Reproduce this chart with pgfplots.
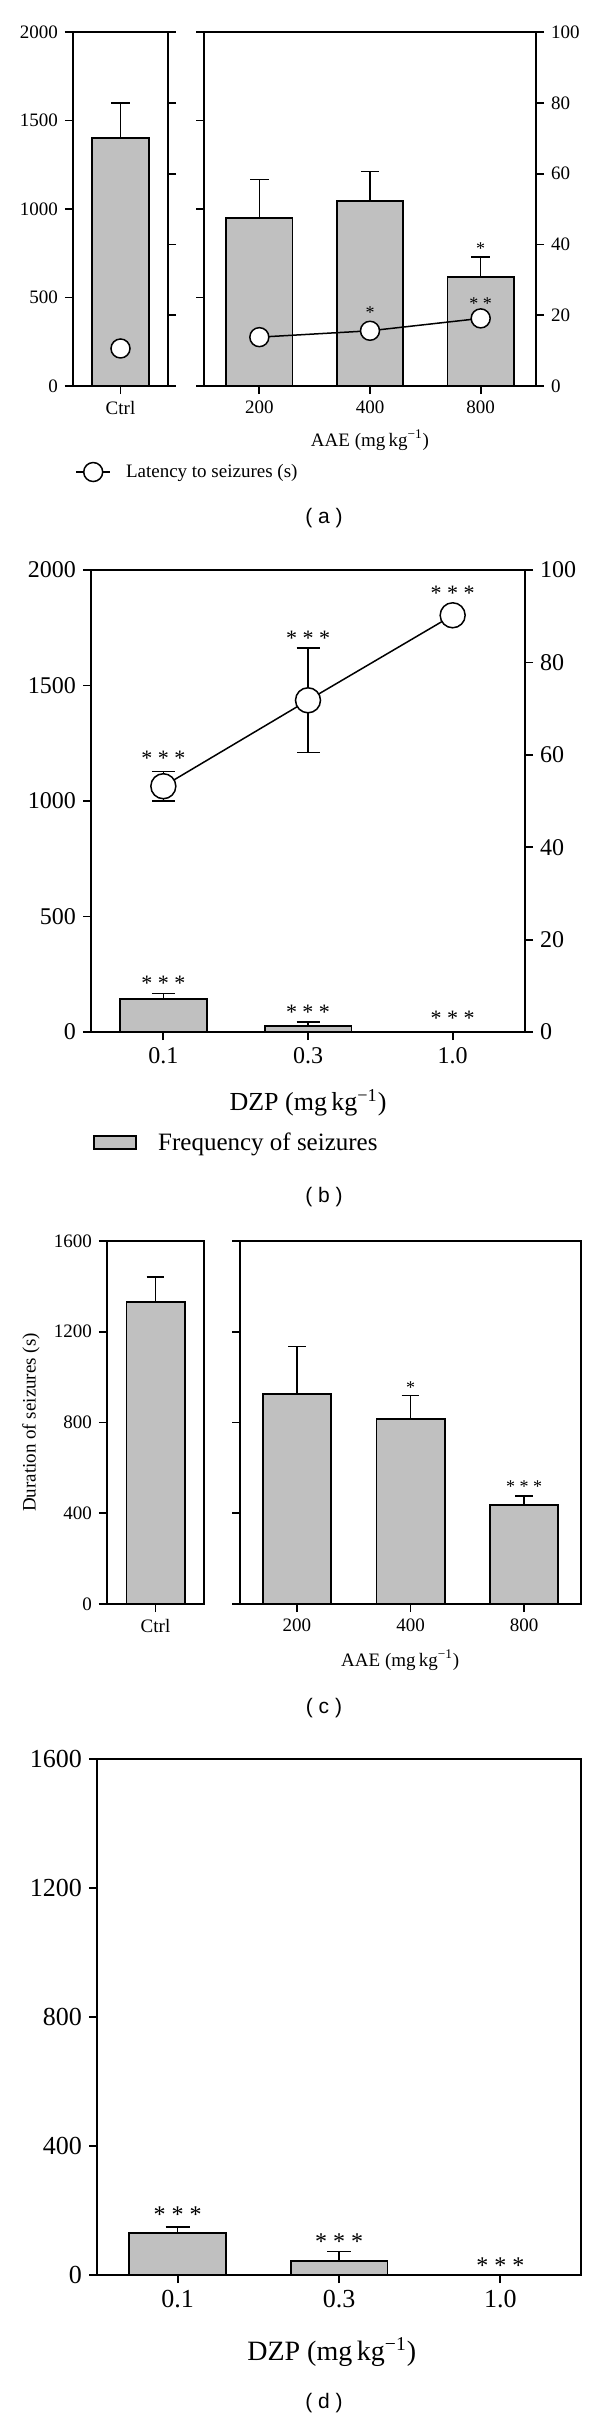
\documentclass[border=0pt]{standalone}
\usepackage{fontspec}
\setmainfont{Liberation Serif}
\newfontfamily\subfont{Liberation Sans}
\usepackage{pgfplots}
\pgfplotsset{compat=1.18}
\definecolor{barfill}{RGB}{192,192,192}
\newcommand{\unitlbl}{(mg\,kg\textsuperscript{\char"2212 1})}
\newcommand{\fs}[1]{\fontsize{#1}{#1}\selectfont}

\pgfplotsset{
  base/.style={
    scale only axis, anchor=south west,
    axis line style={line width=0.9pt},
    tick style={line width=0.9pt,black},
    major tick length=4pt,
    tick align=outside,
    /pgf/number format/assume math mode=true,
    /pgf/number format/1000 sep={},
    scaled y ticks=false,
    clip=false,
    xtick pos=bottom,
  },
  barsty/.style={ybar, bar width=0.6, fill=barfill, draw=black, line width=0.9pt,
    error bars/.cd, y dir=plus, y explicit,
    error bar style={line width=0.75pt},
    error mark options={rotate=90, mark size=#1, line width=0.75pt}},
  circ/.style={black, line width=0.75pt, mark=*, mark size=#1,
    mark options={fill=white, draw=black, line width=0.75pt, solid}},
}

\begin{document}
\begin{tikzpicture}
\useasboundingbox (0,0) rectangle (300pt,-1209.5pt);

%% ---------------- (a) ----------------
\begin{axis}[base, at={(36.5pt,-193pt)}, width=47.5pt, height=177pt,
  xmin=-0.5, xmax=0.5, ymin=0, ymax=2000,
  ytick={0,500,1000,1500,2000}, ytick pos=left,
  xtick={0}, xticklabels={Ctrl},
  ticklabel style={font=\fs{9.5}}]
\addplot[barsty=4.6pt] coordinates {(0,1400) +- (0,200)};
\draw[line width=0.9pt] ([xshift=-4pt]rel axis cs:0,0) -- ([xshift=4pt]rel axis cs:1,0);
\draw[line width=0.9pt] ([xshift=-4pt]rel axis cs:0,1) -- ([xshift=4pt]rel axis cs:1,1);
\end{axis}
\begin{axis}[base, at={(36.5pt,-193pt)}, width=47.5pt, height=177pt,
  xmin=-0.5, xmax=0.5, ymin=0, ymax=100,
  axis x line=none, axis y line*=right,
  ytick={20,40,60,80}, yticklabels={,,,,}]
\addplot[circ=4.75pt] coordinates {(0,10.6)};
\end{axis}

\begin{axis}[base, at={(102pt,-193pt)}, width=166pt, height=177pt,
  xmin=-0.5, xmax=2.5, ymin=0, ymax=2000,
  ytick={0,500,1000,1500,2000}, ytick pos=left, yticklabels={,,,,,},
  xtick={0,1,2}, xticklabels={200,400,800},
  ticklabel style={font=\fs{9.5}},
  xlabel={AAE \unitlbl}, xlabel style={font=\fs{9.5}, at={(axis description cs:0.5,-0.1525)}, anchor=center}]
\addplot[barsty=4.6pt] coordinates {(0,951) +- (0,217) (1,1043) +- (0,168) (2,614) +- (0,115)};
\node[font=\fs{9}] at (axis cs:2,778) {*};
\draw[line width=0.9pt] ([xshift=-4pt]rel axis cs:0,0) -- ([xshift=4pt]rel axis cs:1,0);
\draw[line width=0.9pt] ([xshift=-4pt]rel axis cs:0,1) -- ([xshift=4pt]rel axis cs:1,1);
\end{axis}
\begin{axis}[base, at={(102pt,-193pt)}, width=166pt, height=177pt,
  xmin=-0.5, xmax=2.5, ymin=0, ymax=100,
  axis x line=none, axis y line*=right,
  ytick={0,20,40,60,80,100},
  ticklabel style={font=\fs{9.5}},
  legend style={at={(-0.3886,-0.243)}, anchor=west, draw=none, fill=none,
    inner sep=0pt, nodes={inner sep=0pt}, column sep=7.5pt, font=\fs{9.5}}]
\addplot[circ=4.75pt] coordinates {(0,13.8) (1,15.6) (2,19.1)};
\addlegendentry{Latency to seizures (s)}
\node[font=\fs{9}] at (axis cs:1,20.8) {*};
\node[font=\fs{9}] at (axis cs:2,23.4) {* *};
\end{axis}
\node[font=\subfont\fs{10.5}] at (162pt,-259pt) {( a )};

%% ---------------- (b) ----------------
\begin{axis}[base, at={(45.5pt,-516pt)}, width=217pt, height=231pt,
  xmin=-0.5, xmax=2.5, ymin=0, ymax=2000,
  ytick={0,500,1000,1500,2000}, ytick pos=left,
  xtick={0,1,2}, xticklabels={0.1,0.3,1.0},
  ticklabel style={font=\fs{12}},
  xlabel={DZP \unitlbl}, xlabel style={font=\fs{13}, at={(axis description cs:0.5,-0.153)}, anchor=center},
  legend style={at={(0.0046,-0.240)}, anchor=west, draw=none, fill=none,
    inner sep=0pt, nodes={inner sep=0pt}, column sep=10.5pt, font=\fs{12.5}},
  legend image code/.code={\draw[#1] (0pt,-3.25pt) rectangle (21pt,3.25pt);}]
\addplot[barsty=5.75pt] coordinates {(0,143) +- (0,23) (1,26) +- (0,17) (2,0) +- (0,0)};
\addlegendentry{Frequency of seizures}
\node[font=\fs{11}] at (axis cs:0,213) {* * *};
\node[font=\fs{11}] at (axis cs:1,87) {* * *};
\node[font=\fs{11}] at (axis cs:2,61) {* * *};
\draw[line width=0.9pt] ([xshift=-4pt]rel axis cs:0,0) -- ([xshift=4pt]rel axis cs:1,0);
\draw[line width=0.9pt] ([xshift=-4pt]rel axis cs:0,1) -- ([xshift=4pt]rel axis cs:1,1);
\end{axis}
\begin{axis}[base, at={(45.5pt,-516pt)}, width=217pt, height=231pt,
  xmin=-0.5, xmax=2.5, ymin=0, ymax=100,
  axis x line=none, axis y line*=right,
  ytick={0,20,40,60,80,100},
  ticklabel style={font=\fs{12}}]
\addplot[circ=6.25pt, error bars/.cd, y dir=both, y explicit,
  error bar style={line width=0.75pt, solid},
  error mark options={rotate=90, mark size=5.75pt, line width=0.75pt}]
  coordinates {(0,53.2) +- (0,3.2) (1,71.8) +- (0,11.3) (2,90.2) +- (0,0)};
\node[font=\fs{11}] at (axis cs:0,59.2) {* * *};
\node[font=\fs{11}] at (axis cs:1,85.2) {* * *};
\node[font=\fs{11}] at (axis cs:2,95.0) {* * *};
\end{axis}
\node[font=\subfont\fs{10.5}] at (162pt,-598.5pt) {( b )};

%% ---------------- (c) ----------------
\begin{axis}[base, at={(53.5pt,-802pt)}, width=48.5pt, height=181.5pt,
  xmin=-0.5, xmax=0.5, ymin=0, ymax=1600,
  ytick={0,400,800,1200,1600}, ytick pos=left,
  xtick={0}, xticklabels={Ctrl},
  ticklabel style={font=\fs{9.5}},
  ylabel={Duration of seizures (s)}, ylabel style={font=\fs{9.5}, at={(axis description cs:-0.784,0.5)}, anchor=center}]
\addplot[barsty=4.4pt] coordinates {(0,1332) +- (0,109)};
\draw[line width=0.9pt] ([xshift=-4pt]rel axis cs:0,0) -- (rel axis cs:1,0);
\draw[line width=0.9pt] ([xshift=-4pt]rel axis cs:0,1) -- (rel axis cs:1,1);
\end{axis}
\begin{axis}[base, at={(120pt,-802pt)}, width=170.5pt, height=181.5pt,
  xmin=-0.5, xmax=2.5, ymin=0, ymax=1600,
  ytick={0,400,800,1200,1600}, ytick pos=left, yticklabels={,,,,,},
  xtick={0,1,2}, xticklabels={200,400,800},
  ticklabel style={font=\fs{9.5}},
  xlabel={AAE \unitlbl}, xlabel style={font=\fs{9.5}, at={(axis description cs:0.47,-0.154)}, anchor=center}]
\addplot[barsty=4.4pt] coordinates {(0,927) +- (0,207) (1,814) +- (0,104) (2,438) +- (0,38)};
\node[font=\fs{9}] at (axis cs:1,952) {*};
\node[font=\fs{9}] at (axis cs:2,516) {* * *};
\draw[line width=0.9pt] ([xshift=-4pt]rel axis cs:0,0) -- (rel axis cs:1,0);
\draw[line width=0.9pt] ([xshift=-4pt]rel axis cs:0,1) -- (rel axis cs:1,1);
\end{axis}
\node[font=\subfont\fs{10.5}] at (162pt,-854pt) {( c )};

%% ---------------- (d) ----------------
\begin{axis}[base, at={(48.5pt,-1137.5pt)}, width=242pt, height=258pt,
  xmin=-0.5, xmax=2.5, ymin=0, ymax=1600,
  ytick={0,400,800,1200,1600}, ytick pos=left,
  xtick={0,1,2}, xticklabels={0.1,0.3,1.0},
  ticklabel style={font=\fs{13}},
  xlabel={DZP \unitlbl}, xlabel style={font=\fs{14}, at={(axis description cs:0.485,-0.149)}, anchor=center}]
\addplot[barsty=6pt] coordinates {(0,131) +- (0,18) (1,44) +- (0,29) (2,0) +- (0,0)};
\node[font=\fs{12}] at (axis cs:0,186) {* * *};
\node[font=\fs{12}] at (axis cs:1,103) {* * *};
\node[font=\fs{12}] at (axis cs:2,28) {* * *};
\draw[line width=0.9pt] ([xshift=-4pt]rel axis cs:0,0) -- (rel axis cs:1,0);
\draw[line width=0.9pt] ([xshift=-4pt]rel axis cs:0,1) -- (rel axis cs:1,1);
\end{axis}
\node[font=\subfont\fs{10.5}] at (162pt,-1201.5pt) {( d )};
\end{tikzpicture}
\end{document}
